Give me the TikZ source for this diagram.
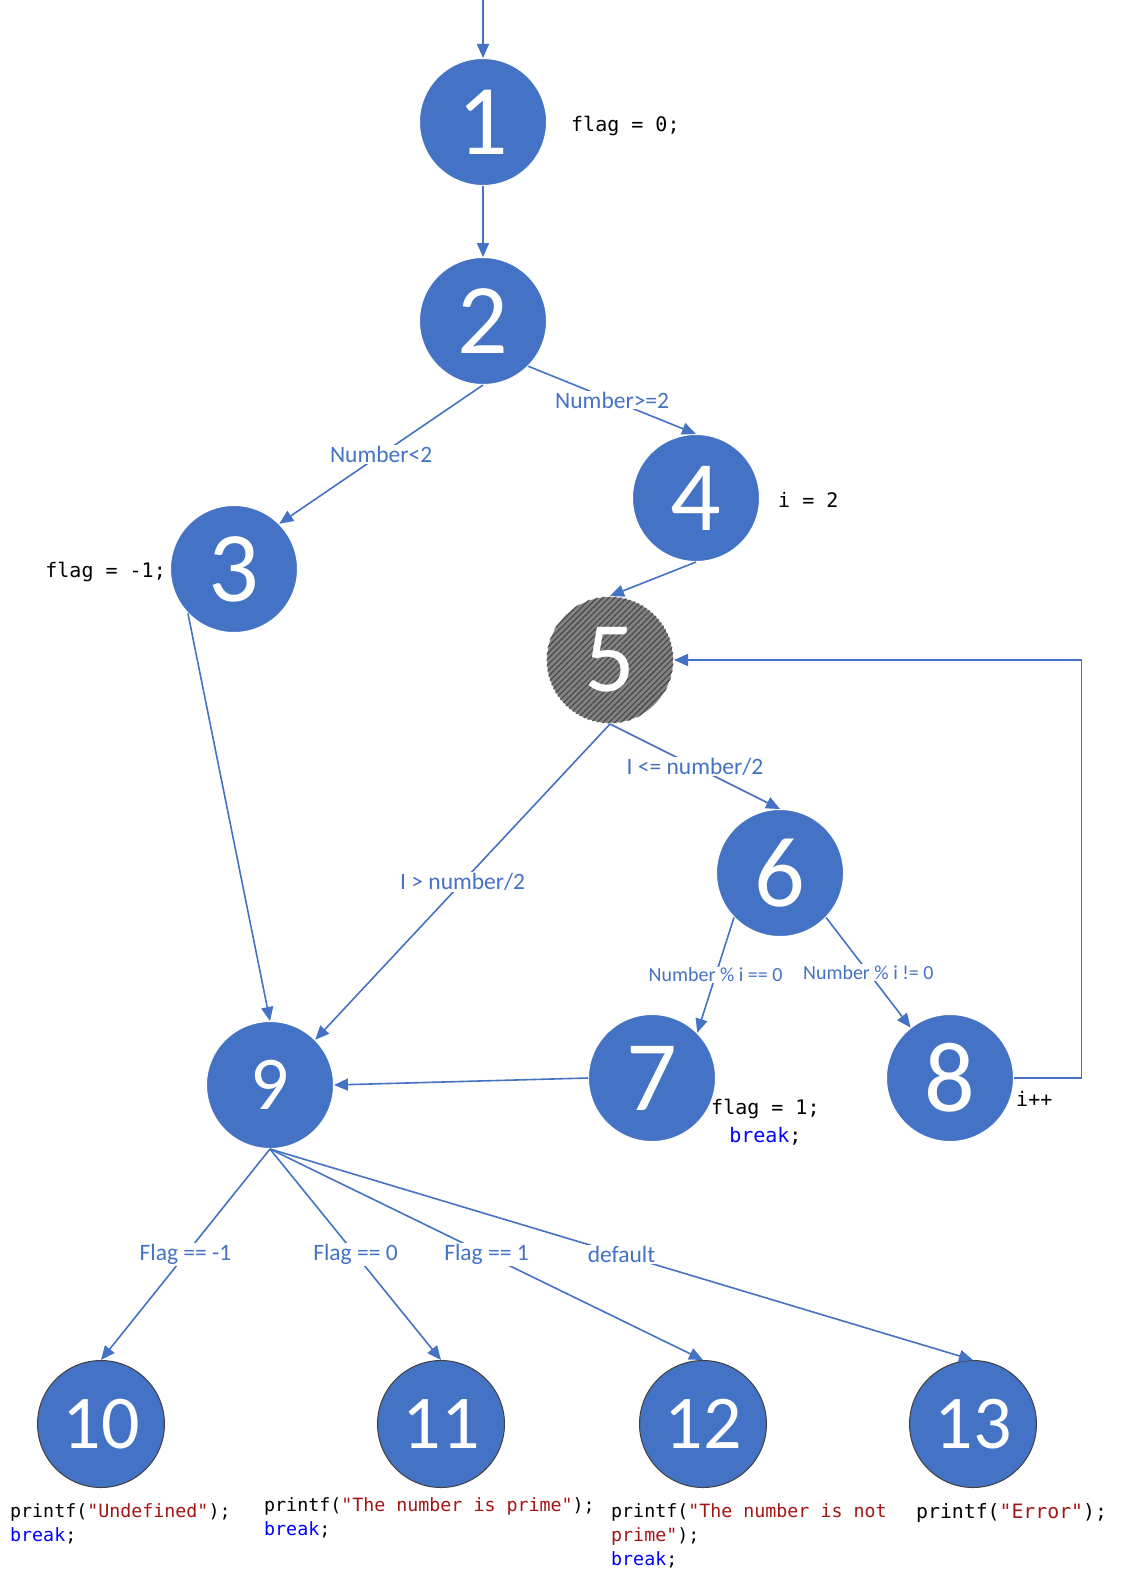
\documentclass[tikz,border=0pt]{standalone}
\usepackage{fontspec}
\setmainfont{Carlito}
\newfontfamily\codefont[Ligatures=TeXOff]{DejaVu Sans Mono}
\usetikzlibrary{arrows.meta,patterns.meta}
\definecolor{nodeblue}{HTML}{4472C4}
\definecolor{strred}{HTML}{A31515}
\definecolor{kwblue}{HTML}{0000FF}
\definecolor{hatchgray}{HTML}{828282}
\tikzset{
  state/.style={circle,minimum size=127pt,inner sep=0,fill=nodeblue,draw=white,
    line width=1pt,text=white,font=\fontsize{100}{100}\selectfont},
  small state/.style={state,font=\fontsize{76}{76}\selectfont},
  end state/.style={small state,draw=black!75},
  loop state/.style={state,fill=hatchgray,
    postaction={pattern={Lines[angle=45,distance=4.2pt,line width=1.3pt]},pattern color=black!70}},
  edge/.style={draw=nodeblue,line width=1.6pt,-{Triangle[length=14pt,width=12pt]}},
  lbl/.style={fill=white,text=nodeblue,inner sep=1pt,font=\fontsize{23.5}{28}\selectfont},
  small lbl/.style={lbl,font=\fontsize{20}{24}\selectfont},
  code/.style={inner sep=0,font=\codefont\fontsize{20}{28}\selectfont},
  small code/.style={inner sep=0,align=left,anchor=north west,font=\codefont\fontsize{18.3}{24}\selectfont},
}
\begin{document}
\begin{tikzpicture}[x=1pt,y=-1pt]
  \useasboundingbox (0,0) rectangle (1121,1581);
  % states
  \node[state] (n1) at (483,122) {1};
  \node[state] (n2) at (483,321) {2};
  \node[state] (n3) at (234,569) {3};
  \node[state] (n4) at (696,498) {4};
  \node[loop state] (n5) at (610,660) {5};
  \node[state] (n6) at (780,873) {6};
  \node[state] (n7) at (652,1078) {7};
  \node[state] (n8) at (950,1078) {8};
  \node[small state] (n9) at (270,1085) {9};
  \node[end state] (n10) at (101,1424) {10};
  \node[end state] (n11) at (441,1424) {11};
  \node[end state] (n12) at (703,1424) {12};
  \node[end state] (n13) at (973,1424) {13};
  \coordinate (start) at (483,0);

  % statements beside the states
  \node[code,anchor=west] (c1) at (571,126) {flag = 0;};
  \node[code,anchor=west] (c4) at (778,500) {i = 2};
  \node[code,anchor=east] (c3) at (166,572) {flag = -1;};
  \node[code,align=center,anchor=north west] (c7) at (711,1099) {flag = 1;\\\textcolor{kwblue}{break};};
  \node[code,anchor=west] (c8) at (1016,1099) {i++};
  \node[small code] (c10) at (10,1503) {printf(\textcolor{strred}{"Undefined"});\\\textcolor{kwblue}{break};};
  \node[small code] (c11) at (264,1497) {printf(\textcolor{strred}{"The number is prime"});\\\textcolor{kwblue}{break};};
  \node[small code] (c12) at (611,1503) {printf(\textcolor{strred}{"The number is not}\\\textcolor{strred}{prime"});\\\textcolor{kwblue}{break};};
  \node[small code,font=\codefont\fontsize{19.8}{24}\selectfont] (c13) at (916,1503) {printf(\textcolor{strred}{"Error"});};

  % control flow
  \draw[edge] (start) -- (n1);
  \draw[edge] (n1) -- (n2);
  \draw[edge] (n2.south) -- node[lbl]{Number<2} (n3.45);
  \draw[edge] (n2.-45) -- node[lbl]{Number>=2} (n4.north);
  \draw[edge] (n4.south) -- (n5.north);
  \draw[edge] (n5.south) -- node[lbl]{I <= number/2} (n6.north);
  \draw[edge] (n5.south) -- node[lbl]{I > number/2} (n9.45);
  \draw[edge] (n3.224) -- (n9.north);
  \draw[edge] (n6.224) -- node[small lbl]{Number \% i == 0} (n7.45);
  \draw[edge] (n6.-44) -- node[small lbl]{Number \% i != 0} (n8.128);
  \draw[edge] (n7.west) -- (n9.east);
  \draw[edge] (n8.east) -- ++(67.5,0) |- (n5.east);
  \draw[edge] (n9.south) -- node[lbl]{Flag == -1} (n10.north);
  \draw[edge] (n9.south) -- node[lbl]{Flag == 0} (n11.north);
  \draw[edge] (n9.south) -- node[lbl]{Flag == 1} (n12.north);
  \draw[edge] (n9.south) -- node[lbl]{default} (n13.north);
\end{tikzpicture}
\end{document}
